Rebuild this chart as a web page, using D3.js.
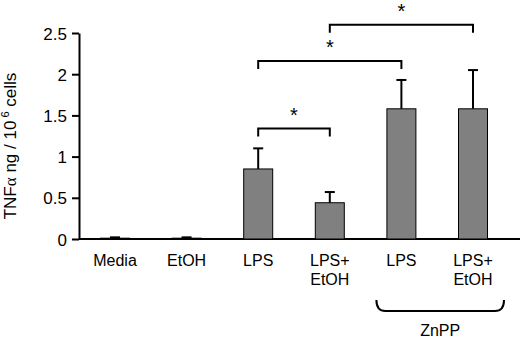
<!DOCTYPE html>
<html>
<head>
<meta charset="utf-8">
<script src="https://cdn.jsdelivr.net/npm/d3@7"></script>
<style>
  body { margin: 0; background: #fff; }
  text { font-family: Arial, "Liberation Sans", sans-serif; fill: #000; }
</style>
</head>
<body>
<svg id="chart" width="520" height="338"></svg>
<script>
// data
var categories = ["Media", "EtOH", "LPS", "LPS+\nEtOH", "LPS", "LPS+\nEtOH"];
var means = [0.01, 0.01, 0.85, 0.44, 1.58, 1.58];
var errors = [0.01, 0.01, 0.25, 0.13, 0.35, 0.47];
var yTicks = [0, 0.5, 1, 1.5, 2, 2.5];
var tickLabels = ["0", "0.5", "1", "1.5", "2", "2.5"];
// significance brackets: [from index, to index, height in data units]
var brackets = [[2, 3, 1.34], [2, 4, 2.16], [3, 5, 2.6]];
var groupLabel = "ZnPP";
var groupRange = [4, 5];

var svg = d3.select("#chart");

var x0 = 79, x1 = 520;
var y = d3.scaleLinear().domain([0, 2.5]).range([239, 33]);
var x = d3.scalePoint().domain(d3.range(categories.length)).range([115, 473]);
var barW = 29;

// y axis
var yAxis = d3.axisLeft(y).tickValues(yTicks)
  .tickFormat(function(d, i) { return tickLabels[i]; })
  .tickSize(7).tickSizeOuter(0);
var gy = svg.append("g").attr("transform", "translate(" + x0 + ",0)").call(yAxis);
gy.select(".domain").attr("stroke", "#000").attr("stroke-width", 2);
gy.selectAll(".tick line").attr("stroke", "#000").attr("stroke-width", 2);
gy.selectAll(".tick text").attr("x", -12).attr("dy", "0.36em")
  .attr("font-size", null)
  .style("font-size", "17px");

// x axis line
svg.append("line")
  .attr("x1", x0).attr("x2", x1)
  .attr("y1", y(0)).attr("y2", y(0))
  .attr("stroke", "#000").attr("stroke-width", 2);

// y label
svg.append("text")
  .attr("transform", "translate(16," + 146 + ") rotate(-90)")
  .attr("text-anchor", "middle")
  .style("font-size", "17px")
  .html('TNF<tspan style="font-family: serif">α</tspan> ng / 10<tspan dy="-7" style="font-size:11px"> 6</tspan><tspan dy="7"> cells</tspan>');

// bars
var bars = svg.append("g");
bars.selectAll("rect")
  .data(means).enter()
  .append("rect")
  .attr("x", function(d, i) { return x(i) - barW / 2; })
  .attr("y", function(d) { return y(d); })
  .attr("width", barW)
  .attr("height", function(d) { return y(0) - y(d); })
  .attr("fill", "#808080")
  .attr("stroke", "#000")
  .attr("stroke-width", 1);

// error bars
var eb = svg.append("g").attr("stroke", "#000").attr("stroke-width", 2);
means.forEach(function(m, i) {
  var top = y(m + errors[i]);
  eb.append("line").attr("x1", x(i)).attr("x2", x(i))
    .attr("y1", y(m)).attr("y2", top);
  eb.append("line").attr("x1", x(i) - 5).attr("x2", x(i) + 5)
    .attr("y1", top).attr("y2", top);
});

// significance brackets
var br = svg.append("g");
brackets.forEach(function(b) {
  var xa = x(b[0]), xb = x(b[1]), yb = y(b[2]);
  br.append("path")
    .attr("d", "M" + xa + "," + (yb + 8) + "V" + yb + "H" + xb + "V" + (yb + 8))
    .attr("fill", "none").attr("stroke", "#000").attr("stroke-width", 2);
  br.append("text")
    .attr("x", (xa + xb) / 2).attr("y", yb - 7)
    .attr("text-anchor", "middle")
    .style("font-size", "20px")
    .text("*");
});

// category labels
var cl = svg.append("g");
categories.forEach(function(c, i) {
  var t = cl.append("text")
    .attr("x", x(i)).attr("y", 266)
    .attr("text-anchor", "middle")
    .style("font-size", "16px");
  c.split("\n").forEach(function(line, k) {
    t.append("tspan").attr("x", x(i)).attr("dy", k ? 19 : 0).text(line);
  });
});

// ZnPP brace
var gx0 = x(groupRange[0]) - 25, gx1 = x(groupRange[1]) + 31;
svg.append("path")
  .attr("d", "M" + gx0 + ",300 Q" + gx0 + ",311 " + (gx0 + 9) + ",311 H" + (gx1 - 9) +
    " Q" + gx1 + ",311 " + gx1 + ",300")
  .attr("fill", "none").attr("stroke", "#000").attr("stroke-width", 2);
svg.append("text")
  .attr("x", (gx0 + gx1) / 2).attr("y", 336)
  .attr("text-anchor", "middle")
  .style("font-size", "16px")
  .text(groupLabel);
</script>
</body>
</html>
